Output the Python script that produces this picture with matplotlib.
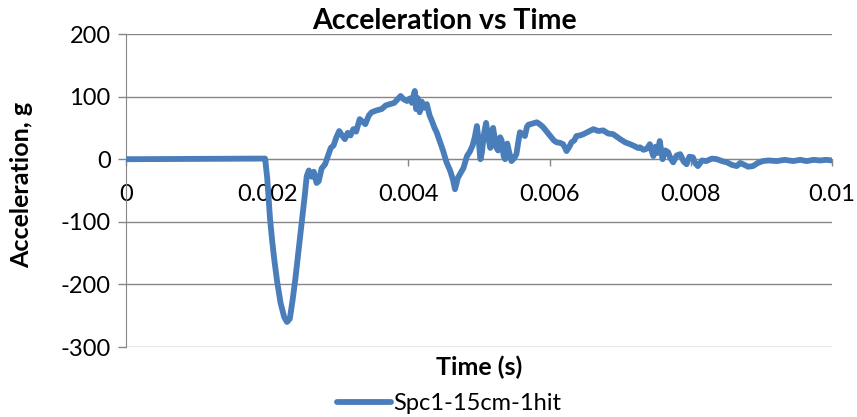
import matplotlib
matplotlib.use("Agg")
import matplotlib.pyplot as plt

# accelerometer trace, time in seconds, acceleration in g
time_s = [0, 0.00197, 0.00200, 0.00204, 0.00207, 0.00210, 0.00214, 0.00219, 0.00224, 0.00228,
          0.00232, 0.00236, 0.00240, 0.00245, 0.00249, 0.00253, 0.00256, 0.00259, 0.00263, 0.00266,
          0.00270, 0.00273, 0.00277, 0.00282, 0.00286, 0.00290, 0.00294, 0.00298, 0.00302, 0.00306,
          0.00310, 0.00314, 0.00318, 0.00322, 0.00326, 0.00331, 0.00335, 0.00339, 0.00344, 0.00348,
          0.00355, 0.00362, 0.00368, 0.00374, 0.00380, 0.00385, 0.00389, 0.00393, 0.00398, 0.00402,
          0.00405, 0.00407, 0.00409, 0.00411, 0.00413, 0.00416, 0.00419, 0.00422, 0.00426, 0.00430,
          0.00433, 0.00437, 0.00440, 0.00444, 0.00449, 0.00454, 0.00459, 0.00463, 0.00466, 0.00470,
          0.00474, 0.00478, 0.00483, 0.00487, 0.00491, 0.00494, 0.00497, 0.00500, 0.00502, 0.00504,
          0.00507, 0.00510, 0.00513, 0.00516, 0.00518, 0.00520, 0.00524, 0.00527, 0.00530, 0.00532,
          0.00535, 0.00537, 0.00540, 0.00543, 0.00546, 0.00550, 0.00553, 0.00556, 0.00558, 0.00562,
          0.00565, 0.00568, 0.00570, 0.00576, 0.00582, 0.00587, 0.00591, 0.00596, 0.00601, 0.00606,
          0.00610, 0.00615, 0.00619, 0.00622, 0.00624, 0.00628, 0.00631, 0.00635, 0.00638, 0.00643,
          0.00648, 0.00655, 0.00662, 0.00669, 0.00676, 0.00683, 0.00690, 0.00695, 0.00700, 0.00707,
          0.00714, 0.00720, 0.00725, 0.00728, 0.00733, 0.00738, 0.00742, 0.00745, 0.00747, 0.00750,
          0.00753, 0.00756, 0.00758, 0.00760, 0.00764, 0.00768, 0.00771, 0.00775, 0.00780, 0.00785,
          0.00790, 0.00794, 0.00798, 0.00803, 0.00806, 0.00810, 0.00816, 0.00822, 0.00830, 0.00837,
          0.00844, 0.00851, 0.00858, 0.00865, 0.00870, 0.00874, 0.00881, 0.00888, 0.00895, 0.00902,
          0.00910, 0.00922, 0.00933, 0.00945, 0.00955, 0.00964, 0.00974, 0.00983, 0.00992, 0.01]
accel_g = [0, 1, -30, -95, -130, -160, -195, -230, -252, -260,
           -255, -225, -190, -140, -101, -60, -27, -18, -28, -20,
           -38, -35, -15, -8, 5, 18, 22, 35, 45, 38,
           32, 42, 38, 48, 44, 64, 60, 56, 70, 75,
           78, 80, 86, 88, 90, 96, 101, 96, 93, 97,
           90, 100, 109, 80, 98, 75, 92, 82, 88, 70,
           62, 50, 43, 30, 14, -5, -18, -32, -48, -30,
           -22, -14, 5, 12, 22, 35, 53, 25, 0, 10,
           40, 58, 35, 18, 45, 50, 20, 14, 35, 30,
           5, 0, 25, 10, -3, 2, 8, 30, 43, 40,
           37, 52, 55, 57, 59, 55, 51, 44, 37, 30,
           27, 26, 24, 18, 13, 20, 27, 30, 37, 38,
           40, 44, 48, 45, 46, 41, 40, 36, 32, 27,
           24, 21, 18, 19, 15, 17, 24, 12, 5, 20,
           10, 29, 15, 0, 14, 11, 2, -5, 6, 8,
           -4, -8, 4, 3, -6, -11, -2, -3, 1, 0,
           -3, -5, -9, -11, -6, -8, -12, -11, -6, -3,
           -2, -3, -1, -3, -1, -3, -1, -2, -1, -2]

x_ticks = [0, 0.002, 0.004, 0.006, 0.008, 0.01]
x_labels = ["0", "0.002", "0.004", "0.006", "0.008", "0.01"]
y_ticks = [200, 100, 0, -100, -200, -300]

plt.rcParams["font.family"] = ["Lato", "DejaVu Sans"]
grey = "#868686"
blue = "#4A7EBB"

fig = plt.figure(figsize=(8.57, 4.17), dpi=100)
ax = fig.add_axes([126 / 857, 1 - 347 / 417, 706 / 857, 313 / 417])

ax.plot(time_s, accel_g, color=blue, lw=4.2, solid_joinstyle="round",
        solid_capstyle="round", label="Spc1-15cm-1hit", zorder=3)

ax.set_xlim(0, 0.01)
ax.set_ylim(-300, 200)
ax.set_yticks(y_ticks)
ax.set_yticklabels([str(v) for v in y_ticks])
ax.set_xticks(x_ticks)
ax.set_xticklabels(x_labels)
ax.yaxis.grid(True, color=grey, lw=1)
ax.set_axisbelow(True)

for side in ["top", "right"]:
    ax.spines[side].set_visible(False)
ax.spines["left"].set_color(grey)
ax.spines["bottom"].set_color(grey)
ax.spines["bottom"].set_position(("data", 0))

ax.tick_params(axis="y", direction="out", length=6, width=1, color=grey,
               labelsize=17, pad=5)
ax.tick_params(axis="x", direction="out", length=5, width=1, color=grey,
               labelsize=17, pad=13)

fig.text(444 / 857, 1 - 21 / 417, "Acceleration vs Time", ha="center", va="center",
         fontsize=20.5, fontweight="bold")
fig.text(22 / 857, 1 - 185 / 417, "Acceleration, g", ha="center", va="center",
         rotation=90, fontsize=18, fontweight="bold")
fig.text(479 / 857, 1 - 367 / 417, "Time (s)", ha="center", va="center",
         fontsize=18, fontweight="bold")

fig.legend(loc="center", bbox_to_anchor=(449 / 857, 1 - 404 / 417), frameon=False,
           fontsize=17, handlelength=2.3, handletextpad=0.1)

fig.savefig("out.png", dpi=100)
